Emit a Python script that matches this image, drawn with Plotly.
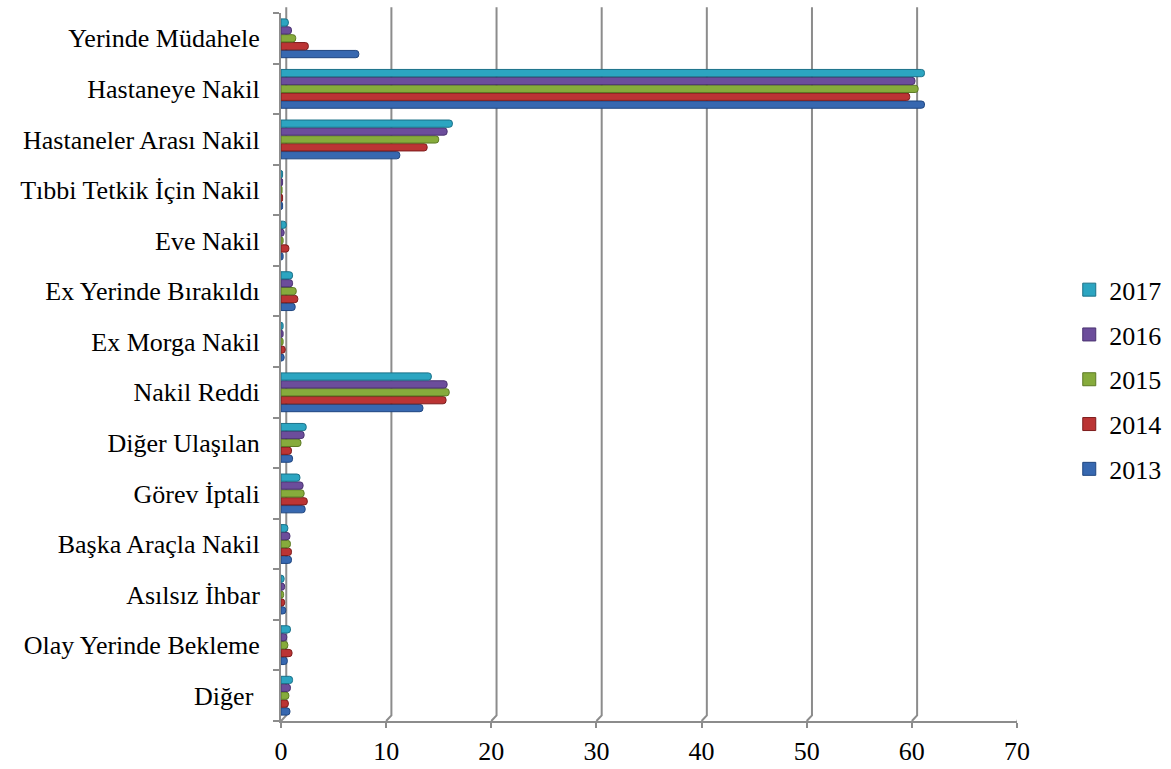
import plotly.graph_objects as go

# Categories, listed top to bottom as shown on the chart
categories = [
    "Yerinde Müdahele",
    "Hastaneye Nakil",
    "Hastaneler Arası Nakil",
    "Tıbbi Tetkik İçin Nakil",
    "Eve Nakil",
    "Ex Yerinde Bırakıldı",
    "Ex Morga Nakil",
    "Nakil Reddi",
    "Diğer Ulaşılan",
    "Görev İptali",
    "Başka Araçla Nakil",
    "Asılsız İhbar",
    "Olay Yerinde Bekleme",
    "Diğer ",
]

# Percentages per year, same order as categories
y2013 = [7.4, 61.2, 11.3, 0.15, 0.2, 1.35, 0.3, 13.5, 1.1, 2.3, 1.0, 0.45, 0.6, 0.85]
y2014 = [2.6, 59.8, 13.9, 0.15, 0.75, 1.6, 0.4, 15.7, 1.0, 2.5, 1.0, 0.35, 1.05, 0.7]
y2015 = [1.4, 60.6, 15.0, 0.1, 0.2, 1.45, 0.2, 16.0, 1.9, 2.2, 0.9, 0.25, 0.65, 0.75]
y2016 = [1.0, 60.3, 15.8, 0.15, 0.3, 1.1, 0.2, 15.8, 2.2, 2.1, 0.85, 0.35, 0.55, 0.9]
y2017 = [0.7, 61.2, 16.3, 0.15, 0.5, 1.1, 0.2, 14.3, 2.4, 1.8, 0.65, 0.3, 0.9, 1.1]

years = ["2013", "2014", "2015", "2016", "2017"]
series = [y2013, y2014, y2015, y2016, y2017]
fills = ["#3768b0", "#bb3434", "#86ab3c", "#6c4d9b", "#2ca5c1"]
edges = ["#1f4680", "#7d1c1c", "#5c7a24", "#4a3270", "#1a7088"]

x_ticks = [0, 10, 20, 30, 40, 50, 60, 70]

GRID = "#8c8c8c"
FONT = "Liberation Serif, Times New Roman, serif"

# Bottom category drawn first so it sits at the bottom of the axis
cats_bottom_up = categories[::-1]

fig = go.Figure()
for name, vals, fc, ec in zip(years, series, fills, edges):
    fig.add_trace(go.Bar(
        name=name,
        y=cats_bottom_up,
        x=vals[::-1],
        orientation="h",
        marker=dict(color=fc, line=dict(color=ec, width=1), cornerradius=3),
        showlegend=False,
    ))

# Square legend keys, newest year on top
for name, fc, ec in reversed(list(zip(years, fills, edges))):
    fig.add_trace(go.Scatter(
        name=name,
        x=[None], y=[None],
        mode="markers",
        marker=dict(symbol="square", size=13, color=fc, line=dict(color=ec, width=1)),
        legendgroup=name,
        showlegend=True,
    ))

# Back-wall gridlines with a short diagonal step to the front axis (3D look)
dx = 0.5
dy = 0.008
for v in x_ticks:
    fig.add_shape(
        type="path",
        xref="x", yref="paper",
        path=f"M {v},0 L {v + dx},{dy} L {v + dx},1.008",
        line=dict(color=GRID, width=2),
        layer="below",
    )

fig.update_layout(
    width=1171,
    height=769,
    barmode="group",
    bargap=0.22,
    bargroupgap=0.08,
    plot_bgcolor="white",
    paper_bgcolor="white",
    margin=dict(l=281, r=154, t=13, b=48, autoexpand=False),
    font=dict(family=FONT, size=26, color="#000000"),
    legend=dict(
        x=1.071, y=0.482, xanchor="left", yanchor="middle",
        font=dict(size=26),
        tracegroupgap=8,
        itemwidth=30,
    ),
    showlegend=True,
)

fig.update_xaxes(
    range=[0, 70],
    tickvals=x_ticks,
    ticktext=[str(v) for v in x_ticks],
    showgrid=False,
    zeroline=False,
    showline=True,
    linecolor=GRID,
    linewidth=2,
    ticks="outside",
    ticklen=5,
    tickcolor=GRID,
    tickwidth=2,
    ticklabelstandoff=1,
    tickfont=dict(size=26),
)

fig.update_yaxes(
    showgrid=False,
    showline=True,
    linecolor=GRID,
    linewidth=2,
    ticks="outside",
    ticklen=6,
    tickcolor=GRID,
    tickwidth=2,
    tickson="boundaries",
    ticklabelstandoff=14,
    tickfont=dict(size=26),
)

fig.write_html("out.html")
